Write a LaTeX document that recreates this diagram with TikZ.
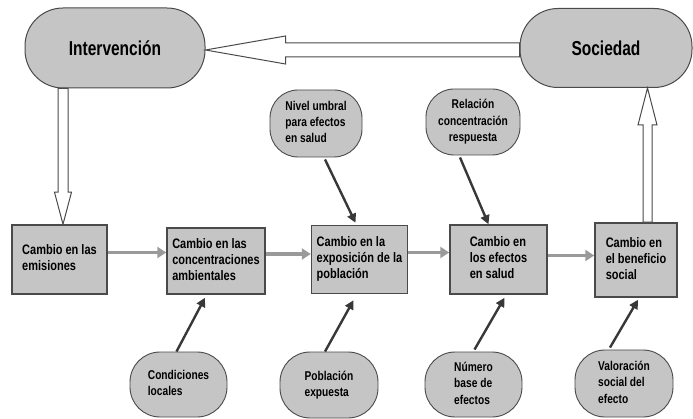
\documentclass[tikz,border=0pt]{standalone}
\usepackage{fontspec}
\usepackage{graphicx}
\setmainfont{Liberation Sans}
\usetikzlibrary{calc,arrows.meta}
\definecolor{fillg}{HTML}{C5C5C5}
\definecolor{edgeg}{HTML}{4A4A4A}
\definecolor{flowg}{HTML}{9A9A9A}
\definecolor{infl}{HTML}{383838}
\newcommand{\vtl}[1]{\scalebox{1}[1.25]{\begin{tabular}{@{}l@{}}#1\end{tabular}}}
\newcommand{\vtc}[1]{\scalebox{1}[1.25]{\begin{tabular}{@{}c@{}}#1\end{tabular}}}
\begin{document}
\begin{tikzpicture}[x=1pt,y=-1pt,
  boxn/.style={draw=edgeg, line width=1.5pt, fill=fillg, rectangle,
    font=\fontsize{11}{12.8}\selectfont\bfseries, inner sep=2pt},
  bigpill/.style={draw=edgeg, line width=1pt, fill=fillg, rectangle, rounded corners=38pt,
    font=\fontsize{15.5}{18}\selectfont\bfseries, inner sep=0pt},
  pill/.style={draw=edgeg, line width=0.9pt, fill=fillg, rectangle, rounded corners=30pt,
    font=\fontsize{10.2}{13}\selectfont\bfseries, inner sep=0pt},
  flow/.style={draw=flowg, line width=3.5pt, -{Triangle[length=9pt,width=11pt]}},
  inf/.style={draw=infl, line width=2.4pt, -{Triangle[length=9pt,width=9pt]}},
  hollow/.style={draw=edgeg, line width=1pt, fill=white, line join=miter}]
\useasboundingbox (0,0) rectangle (693,419);
% big pills
\node[bigpill, minimum width=180pt, minimum height=80pt] (int) at (115,48) {\scalebox{1}[1.3]{Intervención}};
\node[bigpill, minimum width=172pt, minimum height=79pt] (soc) at (606,48) {\scalebox{1}[1.3]{Sociedad}};
% boxes
\node[boxn, minimum width=95pt, minimum height=69pt] (b1) at (59.5,259.5) {\vtl{Cambio en las\\emisiones}};
\node[boxn, minimum width=98pt, minimum height=66pt] (b2) at (216,261) {\vtl{Cambio en las\\concentraciones\\ambientales}};
\node[boxn, minimum width=96pt, minimum height=68pt] (b3) at (359.5,259.5) {\vtl{Cambio en la\\exposición de la\\población}};
\node[boxn, minimum width=97pt, minimum height=69pt] (b4) at (498.5,259.5) {\vtl{Cambio en\\los efectos\\en salud}};
\node[boxn, minimum width=82pt, minimum height=74pt] (b5) at (636,260) {\vtl{Cambio en\\el beneficio\\social}};
% top pills
\node[pill, minimum width=92pt, minimum height=67pt, rounded corners=28pt] (niv) at (316,123.5) {\vtl{Nivel umbral\\para efectos\\en salud}};
\node[pill, minimum width=94pt, minimum height=66pt, rounded corners=28pt] (rel) at (473,122) {\vtc{Relación\\concentración\\respuesta}};
% bottom pills
\node[pill, minimum width=97pt, minimum height=65pt] (con) at (178.5,384.5) {\vtl{Condiciones\\locales}};
\node[pill, minimum width=98pt, minimum height=66pt] (pob) at (329,385) {\vtl{Población\\expuesta}};
\node[pill, minimum width=97pt, minimum height=65pt] (num) at (473.5,384.5) {\vtl{Número\\base de\\efectos}};
\node[pill, minimum width=98pt, minimum height=67pt] (val) at (624,383.5) {\vtl{Valoración\\social del\\efecto}};
% gray flow arrows
\draw[flow] ([yshift=7pt]b1.east) -- ([yshift=7pt]b1.east -| b2.west);
\draw[flow] ([yshift=7pt]b2.east) -- ([yshift=7pt]b2.east -| b3.west);
\draw[flow] ([yshift=7pt]b3.east) -- ([yshift=7pt]b3.east -| b4.west);
\draw[flow] ([yshift=4pt]b4.east) -- ([yshift=4pt]b4.east -| b5.west);
% influence arrows
\draw[inf] ([xshift=9pt,yshift=-2pt]niv.south) -- ([xshift=-4pt,yshift=2pt]b3.north);
\draw[inf] ([xshift=-13pt,yshift=-2pt]rel.south) -- ([xshift=-10pt]b4.north);
\draw[inf] ([xshift=-2pt]con.north) -- ([xshift=-11pt,yshift=-3pt]b2.south);
\draw[inf] ([xshift=-4pt]pob.north) -- ([xshift=-6pt,yshift=-6pt]b3.south);
\draw[inf] ([xshift=1pt,yshift=2pt]num.north) -- ([xshift=6pt,yshift=-3pt]b4.south);
\draw[inf] ([xshift=-14pt,yshift=2pt]val.north) -- ([xshift=2pt,yshift=-2pt]b5.south);
% hollow arrow Sociedad -> Intervencion
\coordinate (tipA) at ([yshift=-2pt]int.east);
\coordinate (endA) at (tipA -| soc.west);
\draw[hollow] (tipA) -- ++(80,-14) -- ++(0,7) -- ($(endA)+(0,-7)$) -- ($(endA)+(0,7)$)
  -- ($(tipA)+(80,7)$) -- ++(0,7) -- cycle;
% hollow arrow Intervencion -> box1
\coordinate (tipB) at ([xshift=3.5pt]b1.north);
\coordinate (startB) at (tipB |- int.south);
\draw[hollow] (tipB) -- ++(-8.5,-32) -- ++(3.5,0) -- ($(startB)+(-5,0)$) -- ($(startB)+(5,0)$)
  -- ($(tipB)+(5,-32)$) -- ++(3.5,0) -- cycle;
% hollow arrow box5 -> Sociedad
\coordinate (tipC) at ([xshift=11.5pt]b5.north |- soc.south);
\coordinate (startC) at ([xshift=11.5pt]b5.north);
\draw[hollow] (tipC) -- ++(-9.5,37) -- ++(5,0) -- ($(startC)+(-4.5,0)$) -- ($(startC)+(4.5,0)$)
  -- ($(tipC)+(4.5,37)$) -- ++(5,0) -- cycle;
\end{tikzpicture}
\end{document}
